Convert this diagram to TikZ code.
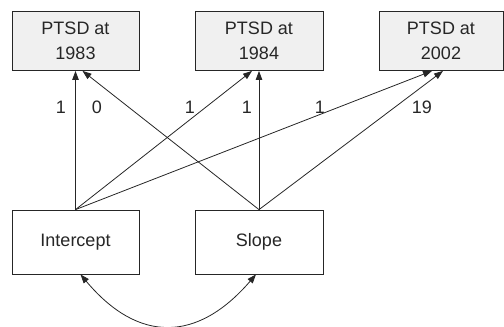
\documentclass[tikz,border=0pt]{standalone}
\usepackage{fontspec}
\setmainfont{Liberation Sans}
\usetikzlibrary{arrows.meta}
\begin{document}
\begin{tikzpicture}[x=1pt,y=-1pt,
  every node/.style={font=\fontsize{18}{24.5}\selectfont, text=black!85},
  obs/.style={draw=black!85, line width=0.8pt, fill=black!6, minimum height=59pt, inner sep=0pt, align=center},
  lat/.style={draw=black!85, line width=0.8pt, fill=white, minimum height=64pt, minimum width=127pt, inner sep=0pt},
  path/.style={draw=black!85, line width=0.8pt, -{Triangle[length=9pt,width=6.5pt]}},
  lbl/.style={inner sep=0pt}]
\useasboundingbox (0,0) rectangle (504,327);
\node[obs, minimum width=127pt] (p1) at (75.5,41) {PTSD at\\1983};
\node[obs, minimum width=128pt] (p2) at (259,41) {PTSD at\\1984};
\node[obs, minimum width=124pt] (p3) at (441,41) {PTSD at\\2002};
\node[lat] (int) at (75.5,242) {Intercept};
\node[lat, minimum width=128pt] (slo) at (259,242) {Slope};
\draw[path] (int.north) -- (p1.south);
\draw[path] (slo.north) -- ([xshift=7pt]p1.south);
\draw[path] (int.north) -- ([xshift=-7pt]p2.south);
\draw[path] (slo.north) -- (p2.south);
\draw[path] (int.north) -- ([xshift=-9pt]p3.south);
\draw[path] (slo.north) -- ([xshift=2pt]p3.south);
\draw[path, {Triangle[length=9pt,width=6.5pt]}-{Triangle[length=9pt,width=6.5pt]}]
  ([xshift=5pt]int.south) .. controls (138,343) and (197,343) .. ([xshift=-3pt]slo.south);
\node[lbl] (l1) at (61,107) {1};
\node[lbl] (l2) at (97,107) {0};
\node[lbl] (l3) at (190,107) {1};
\node[lbl] (l4) at (247,107) {1};
\node[lbl] (l5) at (320,107) {1};
\node[lbl] (l6) at (422,107) {19};
\end{tikzpicture}
\end{document}
